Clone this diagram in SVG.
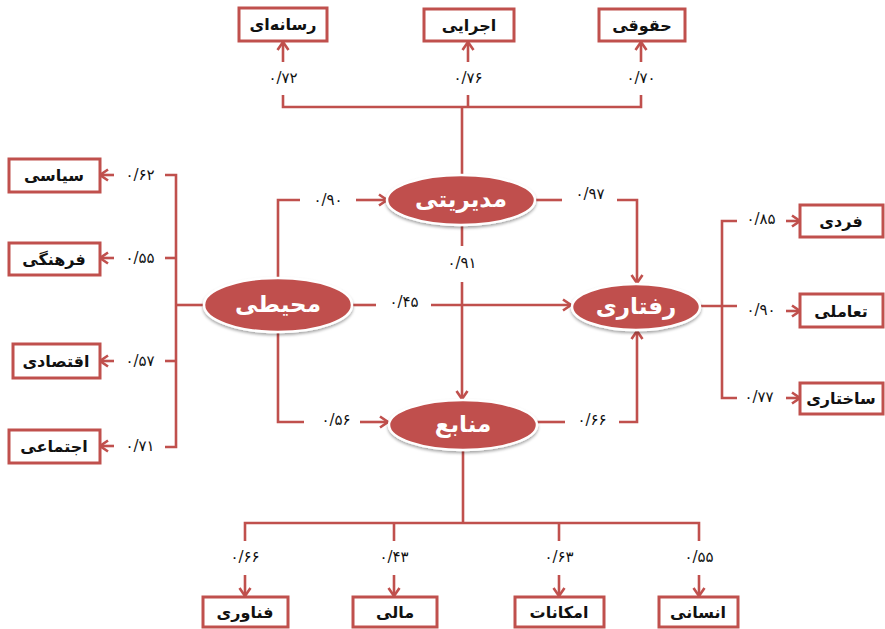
<svg xmlns="http://www.w3.org/2000/svg" width="885" height="629" viewBox="0 0 885 629">
<defs>
<marker id="arr" markerUnits="userSpaceOnUse" markerWidth="14" markerHeight="14" viewBox="0 0 14 14" refX="12" refY="7" orient="auto">
<path d="M4,1.5 L12,7 L4,12.5" fill="none" stroke="#C0504D" stroke-width="2.6" stroke-linejoin="miter"/>
</marker>
<filter id="sh" x="-20%" y="-30%" width="140%" height="170%">
<feDropShadow dx="0" dy="2" stdDeviation="1.8" flood-color="#000" flood-opacity="0.35"/>
</filter>
</defs>
<style>
.c{fill:none;stroke:#C0504D;stroke-width:2.6}
.a{marker-end:url(#arr)}
.box rect{fill:#fff;stroke:#C0504D;stroke-width:3}
.box text{font-family:"DejaVu Sans",sans-serif;font-weight:bold;font-size:16px;fill:#111;text-anchor:middle;dominant-baseline:central}
.ell ellipse{fill:#C0504D;stroke:#fff;stroke-width:2.5;filter:url(#sh)}
.ell text{font-family:"DejaVu Sans",sans-serif;font-weight:bold;font-size:23px;fill:#fff;text-anchor:middle;dominant-baseline:central}
.n{font-family:"DejaVu Sans",sans-serif;font-size:15px;fill:#111;text-anchor:middle;dominant-baseline:central;letter-spacing:1px}
</style>
<rect width="885" height="629" fill="#fff"/>
<g id="connectors">
<path class="c" d="M462,175 V107"/>
<path class="c" d="M283,95 V107 H641 V95"/>
<path class="c" d="M468,107 V95"/>
<path class="c a" d="M283,62 V42"/>
<path class="c a" d="M468,62 V42"/>
<path class="c a" d="M641,62 V42"/>
<path class="c" d="M204,305 H176"/>
<path class="c" d="M165,175 H176 V447 H165"/>
<path class="c" d="M165,258 H176"/>
<path class="c" d="M165,361 H176"/>
<path class="c a" d="M114,175 H100"/>
<path class="c a" d="M114,258 H100"/>
<path class="c a" d="M114,361 H100"/>
<path class="c a" d="M114,446 H100"/>
<path class="c" d="M278,279 V200 H300"/>
<path class="c a" d="M356,200 H387"/>
<path class="c" d="M536,200 H562"/>
<path class="c a" d="M617,200 H637 V283"/>
<path class="c" d="M462,225 V246"/>
<path class="c a" d="M462,282 V399"/>
<path class="c" d="M352,305 H376"/>
<path class="c a" d="M431,305 H571"/>
<path class="c" d="M278,332 V422 H304"/>
<path class="c a" d="M360,422 H388"/>
<path class="c" d="M537,422 H565"/>
<path class="c a" d="M619,422 H637 V331"/>
<path class="c" d="M700,306 H737"/>
<path class="c" d="M737,221 H722 V398 H737"/>
<path class="c a" d="M786,221 H800"/>
<path class="c a" d="M786,311 H800"/>
<path class="c a" d="M786,398 H800"/>
<path class="c" d="M463,450 V523"/>
<path class="c" d="M245,541 V523 H699 V541"/>
<path class="c" d="M394,523 V541"/>
<path class="c" d="M559,523 V541"/>
<path class="c a" d="M245,575 V596"/>
<path class="c a" d="M394,575 V596"/>
<path class="c a" d="M559,575 V596"/>
<path class="c a" d="M699,575 V596"/>
</g>
<g id="labels">
<text class="n" x="283" y="78">۰/۷۲</text>
<text class="n" x="468" y="78">۰/۷۶</text>
<text class="n" x="641" y="78">۰/۷۰</text>
<text class="n" x="140" y="175">۰/۶۲</text>
<text class="n" x="140" y="258">۰/۵۵</text>
<text class="n" x="140" y="361">۰/۵۷</text>
<text class="n" x="140" y="446">۰/۷۱</text>
<text class="n" x="328" y="200">۰/۹۰</text>
<text class="n" x="590" y="194">۰/۹۷</text>
<text class="n" x="462" y="263">۰/۹۱</text>
<text class="n" x="404" y="302">۰/۴۵</text>
<text class="n" x="336" y="420">۰/۵۶</text>
<text class="n" x="592" y="420">۰/۶۶</text>
<text class="n" x="761" y="219">۰/۸۵</text>
<text class="n" x="761" y="310">۰/۹۰</text>
<text class="n" x="759" y="397">۰/۷۷</text>
<text class="n" x="245" y="557">۰/۶۶</text>
<text class="n" x="394" y="557">۰/۴۳</text>
<text class="n" x="559" y="557">۰/۶۳</text>
<text class="n" x="699" y="557">۰/۵۵</text>
</g>
<g id="n-resaneh" class="box"><rect x="239" y="8" width="88" height="33"/><text x="283" y="24">رسانه‌ای</text></g>
<g id="n-ejraei" class="box"><rect x="424" y="9" width="90" height="32"/><text x="469" y="25">اجرایی</text></g>
<g id="n-hoghoghi" class="box"><rect x="599" y="9" width="86" height="32"/><text x="642" y="25">حقوقی</text></g>
<g id="n-siasi" class="box"><rect x="9" y="159" width="91" height="33"/><text x="54" y="175">سیاسی</text></g>
<g id="n-farhangi" class="box"><rect x="9" y="243" width="91" height="32"/><text x="54" y="259">فرهنگی</text></g>
<g id="n-eghtesadi" class="box"><rect x="13" y="344" width="87" height="34"/><text x="56" y="361">اقتصادی</text></g>
<g id="n-ejtemaei" class="box"><rect x="9" y="430" width="91" height="33"/><text x="54" y="446">اجتماعی</text></g>
<g id="n-fardi" class="box"><rect x="800" y="205" width="83" height="32"/><text x="841" y="221">فردی</text></g>
<g id="n-taamoli" class="box"><rect x="800" y="294" width="83" height="33"/><text x="841" y="311">تعاملی</text></g>
<g id="n-sakhtari" class="box"><rect x="800" y="383" width="83" height="31"/><text x="841" y="398">ساختاری</text></g>
<g id="n-fanavari" class="box"><rect x="203" y="597" width="85" height="30"/><text x="245" y="612">فناوری</text></g>
<g id="n-mali" class="box"><rect x="353" y="597" width="84" height="30"/><text x="395" y="612">مالی</text></g>
<g id="n-emkanat" class="box"><rect x="515" y="597" width="89" height="30"/><text x="559" y="612">امکانات</text></g>
<g id="n-ensani" class="box"><rect x="659" y="597" width="79" height="30"/><text x="698" y="612">انسانی</text></g>
<g id="n-modiriyati" class="ell"><ellipse cx="461" cy="200" rx="74" ry="25"/><text x="461" y="199">مدیریتی</text></g>
<g id="n-mohiti" class="ell"><ellipse cx="278" cy="305" rx="74" ry="27"/><text x="278" y="304">محیطی</text></g>
<g id="n-raftari" class="ell"><ellipse cx="636" cy="307" rx="64" ry="23"/><text x="636" y="306">رفتاری</text></g>
<g id="n-manabe" class="ell"><ellipse cx="463" cy="425" rx="74" ry="25"/><text x="463" y="424">منابع</text></g>
</svg>
